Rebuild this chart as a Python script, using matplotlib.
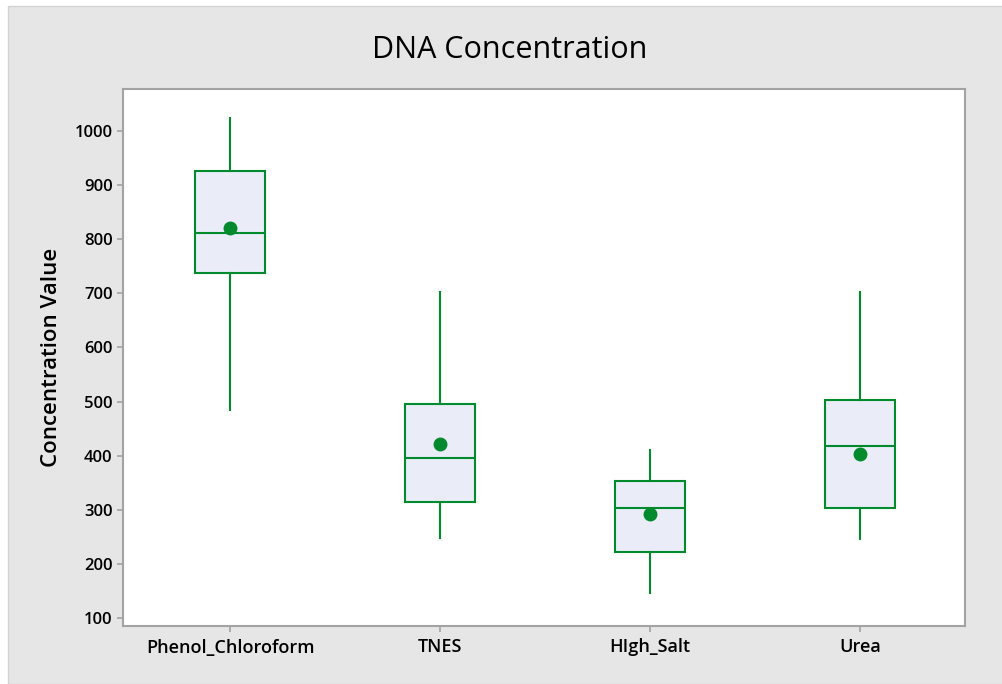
import matplotlib.pyplot as plt
from matplotlib.patches import Rectangle

# box statistics
groups = ["Phenol_Chloroform", "TNES", "HIgh_Salt", "Urea"]
whislo = [484, 248, 146, 245]
q1 = [737, 314, 221, 304]
med = [812, 395, 304, 418]
q3 = [927, 495, 353, 503]
whishi = [1025, 703, 411, 703]
means = [821, 421, 292, 403]
yticks = [100, 200, 300, 400, 500, 600, 700, 800, 900, 1000]

green = "#008a2e"
fill = "#eaecf8"

plt.rcParams['font.family'] = ['Open Sans', 'DejaVu Sans']

fig = plt.figure(figsize=(10.03, 6.84), dpi=100)
fig.patch.set_facecolor("white")
fig.patches.append(Rectangle((8 / 1003, 0), 1, 1 - 6 / 684, transform=fig.transFigure,
                             facecolor="#e6e6e6", edgecolor="#d2d2d2", lw=1, zorder=-5))

ax = fig.add_axes([123 / 1003, 1 - 626 / 684, 842 / 1003, 537 / 684])
ax.set_zorder(2)
ax.set_facecolor("white")

stats = []
for i in range(len(groups)):
    stats.append(dict(label=groups[i], whislo=whislo[i], q1=q1[i], med=med[i],
                      q3=q3[i], whishi=whishi[i], mean=means[i], fliers=[]))

ax.bxp(stats, positions=range(1, len(groups) + 1), widths=0.335, showcaps=False,
       showmeans=True, patch_artist=True, showfliers=False,
       boxprops=dict(facecolor=fill, edgecolor=green, lw=1.5),
       medianprops=dict(color=green, lw=1.5),
       whiskerprops=dict(color=green, lw=1.5),
       meanprops=dict(marker="o", markerfacecolor=green, markeredgecolor=green, markersize=9))

ax.set_xlim(0.49, 4.5)
ax.set_ylim(85, 1078)
ax.set_yticks(yticks)
ax.set_xticks(range(1, len(groups) + 1))
ax.set_xticklabels(groups)

for s in ax.spines.values():
    s.set_color("#a3a3a3")
    s.set_linewidth(1.5)
ax.tick_params(axis="both", colors="#a3a3a3", length=4, width=1.2, labelcolor="black",
               labelsize=12)
ax.tick_params(axis="x", pad=5, labelsize=13)
for lab in ax.get_xticklabels() + ax.get_yticklabels():
    lab.set_fontweight("semibold")

fig.text(510 / 1003, 1 - 50 / 684, "DNA Concentration", ha="center", va="center", fontsize=22)
fig.text(52 / 1003, 1 - 357 / 684, "Concentration Value", ha="center", va="center",
         rotation=90, fontsize=16, fontweight="semibold")

fig.savefig("out.png", dpi=100)
